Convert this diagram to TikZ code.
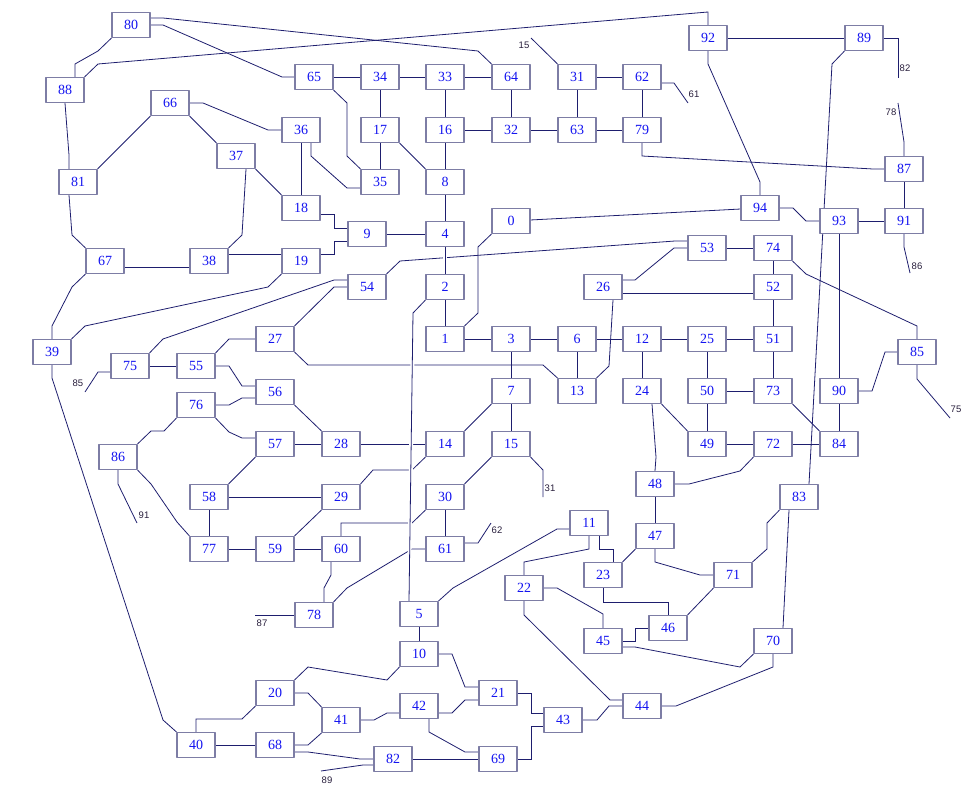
\documentclass[tikz,border=0pt]{standalone}
\usepackage{fontspec}
\setmainfont{Liberation Serif}
\newfontfamily\lblfont{Liberation Sans}
\usetikzlibrary{backgrounds}
\definecolor{linkc}{RGB}{30,30,110}
\definecolor{boxc}{RGB}{125,125,165}
\definecolor{numc}{RGB}{20,20,240}
\definecolor{lblc}{RGB}{40,30,60}
\begin{document}
\begin{tikzpicture}[x=1pt,y=-1pt,line join=round,
	box/.style={draw=boxc,line width=1.2pt,fill=white,minimum width=38pt,minimum height=25pt,inner sep=0pt,text=numc,font=\fontsize{14}{16}\selectfont},
	lbl/.style={text=lblc,font=\lblfont\fontsize{9.5}{11}\selectfont,inner sep=0pt},
	link/.style={draw=linkc,line width=0.8pt},
	jump/.style={link,preaction={draw=white,line width=4pt}}]
	\useasboundingbox (0,0) rectangle (979,789);
	%boxes
	\foreach \n/\x/\y in {0/511/221,1/445/339,2/445/287,3/511/339,4/445/234,5/419/614,6/577/339,7/511/391,8/445/182,9/367/234,
		10/419/654,11/589/523,12/642/339,13/577/391,14/445/444,15/511/444,16/445/130,17/380/130,18/301/208,19/301/261,
		20/275/693,21/498/693,22/524/588,23/603/575,24/642/391,25/707/339,26/603/287,27/275/339,28/341/444,29/341/497,
		30/445/497,31/577/77,32/511/130,33/445/77,34/380/77,35/380/182,36/301/130,37/236/156,38/209/261,39/52/352,
		40/196/745,41/341/720,42/419/706,43/563/720,44/642/706,45/603/641,46/668/628,47/655/536,48/655/484,49/707/444,
		50/707/391,51/773/339,52/773/287,53/707/248,54/367/287,55/196/366,56/275/392,57/275/444,58/209/497,59/275/549,
		60/341/549,61/445/549,62/642/77,63/577/130,64/511/77,65/314/77,66/170/103,67/105/261,68/275/745,69/498/759,
		70/773/641,71/733/575,72/773/444,73/773/391,74/773/248,75/130/366,76/196/405,77/209/549,78/314/615,79/642/130,
		80/131/25,81/78/182,82/393/759,83/799/497,84/839/444,85/917/352,86/118/457,87/904/169,88/65/90,89/864/38,
		90/839/391,91/904/221,92/708/38,93/839/221,94/760/208}
	\node[box] (n\n) at (\x,\y) {\n};
	%free ends
	\path (531,38) coordinate (d31) (688,103) coordinate (d62) (898,78) coordinate (d89) (898,103) coordinate (d87)
	(910,273) coordinate (d91) (950,418) coordinate (d85) (85,392) coordinate (d75) (137,523) coordinate (d86)
	(543,497) coordinate (d15) (491,523) coordinate (d61) (255,615) coordinate (d78) (321,771) coordinate (d82);
	\node[lbl] (t31) at (524,45) {15};
	\node[lbl] (t62) at (694,94) {61};
	\node[lbl] (t89) at (905,68) {82};
	\node[lbl] (t87) at (891,112) {78};
	\node[lbl] (t91) at (917,266) {86};
	\node[lbl] (t85) at (956,409) {75};
	\node[lbl] (t75) at (78,383) {85};
	\node[lbl] (t86) at (144,515) {91};
	\node[lbl] (t15) at (550,488) {31};
	\node[lbl] (t61) at (497,530) {62};
	\node[lbl] (t78) at (262,623) {87};
	\node[lbl] (t82) at (327,780) {89};
	\begin{scope}[on background layer]
	\foreach \a/\b in {9/4,8/4,36/18,2/1,5/10,48/47,93/90,90/84,74/52,53/74,52/51,12/25,25/51,12/24,25/50,50/73,51/73,
		50/49,49/72,72/84,1/3,3/6,6/12,3/7,6/13,7/15,30/61,59/60,77/59,58/77,58/29,57/28,28/14,75/55,40/68,82/69,
		65/34,34/33,33/64,34/17,17/35,33/16,16/8,16/32,64/32,32/63,31/63,31/62,62/79,63/79,87/91,92/89,93/91,0/94}
	\draw[link] (n\a) -- (n\b);
	\foreach \a/\p/\b/\q in {66/south west/81/north east,66/south east/37/north west,37/south east/18/north west,
		17/south east/8/north west,47/south west/23/north east,71/south west/46/north east,24/south east/49/north west,
		73/south east/84/north west,7/south west/14/north east,15/south west/30/north east,29/south west/59/north east,
		57/south west/58/north east,56/south east/28/north west}
	\draw[link] (n\a.\p) -- (n\b.\q);
	\draw[link] (n80.south west) -- (98,51) -- (75,64) -- ([xshift=10pt]n88.north);
	\draw[link] ([yshift=7pt]n80.east) -- (163,18) -- (478,51) -- (n64.north west);
	\draw[link] (n80.east) -- (163,25) -- (282,77) -- (n65.west);
	\draw[link] (n88.north east) -- (98,64) -- (708,12) -- (n92.north);
	\draw[link] (n88.south) -- (69,155) -- ([xshift=-9pt]n81.north);
	\draw[link] (n66.east) -- (203,103) -- (268,130) -- (n36.west);
	\draw[link] ([xshift=10pt]n37.south) -- (242,235) -- (n38.north east);
	\draw[link] ([xshift=10pt]n36.south) -- (311,156) -- (347,188) -- ([yshift=-6pt]n35.west);
	\draw[link] ([xshift=-9pt]n81.south) -- (72,235) -- (n67.north west);
	\draw[link] ([yshift=-6pt]n67.east) -- ([yshift=-6pt]n38.west);
	\draw[link] ([yshift=7pt]n38.east) -- ([yshift=7pt]n19.west);
	\draw[link] ([yshift=-6pt]n18.east) -- (334,214) -- (334,228) -- ([yshift=6pt]n9.west);
	\draw[link] ([yshift=7pt]n19.east) -- (334,254) -- (334,241) -- ([yshift=-7pt]n9.west);
	\draw[link] (n54.north east) -- (400,261) -- (675,241) -- ([yshift=7pt]n53.west);
	\draw[link] ([yshift=7pt]n26.east) -- (635,280) -- (674,248) -- (n53.west);
	\draw[link] (n0.south west) -- (478,247) -- (478,313) -- (n1.north east);
	\draw[link] (n5.north east) -- (453,588) -- (557,529) -- ([yshift=-6pt]n11.west);
	\draw[link] (n11.south) -- (589,549) -- (524,562) -- (n22.north);
	\draw[link] ([xshift=10pt]n11.south) -- (599,549) -- (613,549) -- ([xshift=10pt]n23.north);
	\draw[link] (n47.south) -- (655,562) -- (700,575) -- (n71.west);
	\draw[link] (n23.south) -- (603,602) -- (668,602) -- (n46.north);
	\draw[link] (n45.east) -- (635,641) -- (635,628) -- (n46.west);
	\draw[link] (n22.east) -- (557,588) -- (603,614) -- (n45.north);
	\draw[link] (n22.south) -- (524,615) -- (610,700) -- ([yshift=6pt]n44.west);
	\draw[link] ([yshift=-6pt]n45.east) -- (635,647) -- (740,667) -- (n70.south west);
	\draw[link] (n70.south) -- (773,667) -- (676,706) -- (n44.east);
	\draw[link] ([xshift=-10pt]n83.south) -- ([xshift=10pt]n70.north);
	\draw[link] (n83.south west) -- (767,523) -- (767,549) -- (n71.north east);
	\draw[link] ([xshift=10pt]n83.north) -- (832,64) -- (n89.south west);
	\draw[link] (n90.east) -- (872,391) -- (885,352) -- (n85.west);
	\draw[link] (n74.south east) -- (806,274) -- (917,326) -- (n85.north);
	\draw[link] ([yshift=-6pt]n26.east) -- ([yshift=-6pt]n52.west);
	\draw[link] ([xshift=10pt]n24.south) -- (656,457) -- (n48.north);
	\draw[link] (n72.south west) -- (740,471) -- (689,484) -- (n48.east);
	\draw[link] ([xshift=10pt]n26.south) -- (609,366) -- (n13.north east);
	\draw[link] (n27.south east) -- (308,365) -- (543,365) -- (n13.north west);
	\draw[link] (n30.south west) -- (412,523) -- (341,523) -- (n60.north);
	\draw[link] (n61.west) -- (412,549) -- (347,588) -- (n78.north east);
	\draw[link] ([xshift=-10pt]n60.south) -- (331,575) -- (324,588) -- ([xshift=10pt]n78.north);
	\draw[link] (n29.north east) -- (373,470) -- (412,470) -- (n14.south west);
	\draw[link] (n76.east) -- (229,405) -- (242,398) -- ([yshift=-6pt]n56.west);
	\draw[link] (n76.south east) -- (229,432) -- (242,438) -- ([yshift=6pt]n57.west);
	\draw[link] (n55.east) -- (229,366) -- (242,386) -- ([yshift=6pt]n56.west);
	\draw[link] (n55.north east) -- (229,339) -- (n27.west);
	\draw[link] (n75.north east) -- (163,339) -- (334,280) -- ([yshift=7pt]n54.west);
	\draw[link] (n27.north east) -- (334,287) -- (n54.west);
	\draw[link] (n19.south west) -- (268,287) -- (85,326) -- (n39.north east);
	\draw[link] (n67.south west) -- (72,287) -- (52,326) -- (n39.north);
	\draw[link] (n39.south) -- (52,378) -- (163,720) -- (n40.north west);
	\draw[link] (n40.north) -- (196,719) -- (242,719) -- (n20.south west);
	\draw[link] (n20.north east) -- (308,667) -- (387,680) -- (n10.south west);
	\draw[link] (n20.east) -- (308,693) -- (n41.north west);
	\draw[link] (n68.east) -- (308,745) -- (n41.south west);
	\draw[link] ([yshift=-7pt]n68.east) -- (308,752) -- (360,759) -- (n82.west);
	\draw[link] ([xshift=10pt]n42.south) -- (429,732) -- (465,752) -- ([yshift=7pt]n69.west);
	\draw[link] (n41.east) -- (374,720) -- (387,713) -- ([yshift=-7pt]n42.west);
	\draw[link] ([yshift=-7pt]n42.east) -- (452,713) -- (465,700) -- ([yshift=-7pt]n21.west);
	\draw[link] (n10.east) -- (452,654) -- (465,687) -- ([yshift=6pt]n21.west);
	\draw[link] (n21.east) -- (531,693) -- (531,713) -- ([yshift=7pt]n43.west);
	\draw[link] (n69.east) -- (531,759) -- (531,726) -- ([yshift=-6pt]n43.west);
	\draw[link] (n43.east) -- (597,720) -- (609,706) -- (n44.west);
	\draw[link] (n65.south east) -- (347,103) -- (347,156) -- (n35.north west);
	\draw[link] (n79.south) -- (642,156) -- (873,169) -- (n87.west);
	\draw[link] (n92.south) -- (708,64) -- (760,182) -- (n94.north);
	\draw[link] (n94.east) -- (793,208) -- (806,221) -- (n93.west);
	\draw[link] (n76.south west) -- (164,431) -- (151,431) -- (n86.north east);
	\draw[link] (n86.south east) -- (151,484) -- (177,522) -- (n77.north west);
	%loose ends
	\draw[link] (n31.north west) -- (d31);
	\draw[link] ([yshift=-6pt]n62.east) -- (674,83) -- (d62);
	\draw[link] (n89.east) -- (898,38) -- (d89);
	\draw[link] (n87.north) -- (904,142) -- (d87);
	\draw[link] (n91.south) -- (904,247) -- (d91);
	\draw[link] (n85.south) -- (917,379) -- (d85);
	\draw[link] ([yshift=-6pt]n75.west) -- (98,372) -- (d75);
	\draw[link] (n86.south) -- (118,484) -- (d86);
	\draw[link] (n15.south east) -- (543,470) -- (d15);
	\draw[link] ([yshift=6pt]n61.east) -- (478,543) -- (d61);
	\draw[link] (n78.west) -- (d78);
	\draw[link] ([yshift=-6pt]n82.west) -- (363,765) -- (d82);
	%over the others
	\draw[jump] (n4.south) -- (n2.north);
	\draw[jump] (n2.south west) -- (413,313) -- ([xshift=-10pt]n5.north);
	\end{scope}
\end{tikzpicture}
\end{document}
